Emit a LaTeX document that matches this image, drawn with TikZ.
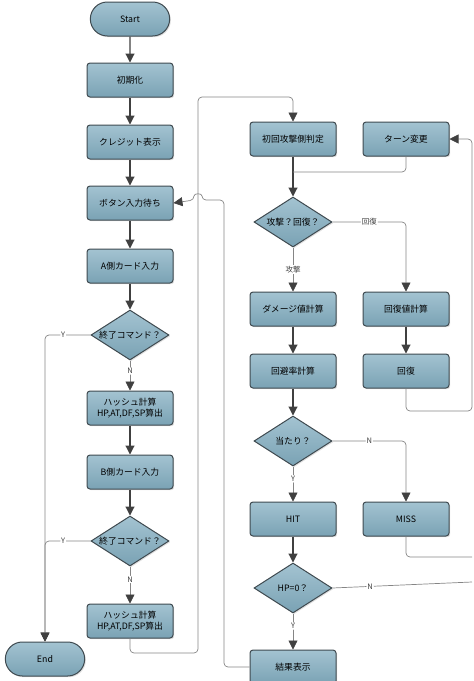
\documentclass[tikz,border=0pt]{standalone}
\usepackage{fontspec}
\newfontfamily\jpfont{Noto Sans CJK JP}
\usepackage{tikz}
\usetikzlibrary{arrows.meta,positioning,shapes.geometric,shapes.misc,shadows}
\usepackage{xcolor}

\definecolor{boxtop}{HTML}{A3C3D1}
\definecolor{boxbot}{HTML}{7AA2B4}
\definecolor{boxline}{HTML}{3F4A50}
\definecolor{wirec}{HTML}{858585}
\definecolor{headc}{HTML}{404040}

\begin{document}
\begin{tikzpicture}[
  x=1pt,y=-1pt,
  node distance=27pt,
  base/.style={draw=boxline,line width=1pt,top color=boxtop,bottom color=boxbot,
    font=\jpfont\fontsize{8.8}{10.5}\selectfont,align=center,
    drop shadow={opacity=0.25,shadow xshift=1.2pt,shadow yshift=-1.2pt}},
  box/.style={base,rounded corners=3pt,minimum width=86pt,minimum height=34pt,inner sep=1pt},
  term/.style={base,rounded rectangle,minimum width=86pt,minimum height=34pt},
  ask/.style={base,diamond,aspect=1.6,minimum width=78pt,minimum height=50pt,inner sep=0pt},
  arr/.style={-{Triangle[width=9pt,length=9pt]},draw=headc,line width=1.1pt},
  link/.style={-{Triangle[width=9pt,length=9pt,color=headc]},draw=wirec,line width=0.7pt,rounded corners=4pt},
  wire/.style={draw=wirec,line width=0.7pt,rounded corners=4pt},
  lbl/.style={fill=white,inner sep=1pt,font=\jpfont\fontsize{7.5}{9}\selectfont,text=black!75}
]
\useasboundingbox (0,0) rectangle (474,681);

% left column
\node[term] (start) at (130,19) {Start};
\node[box,below=26pt of start] (init) {初期化};
\node[box,below=of init] (credit) {クレジット表示};
\node[box,below=26pt of credit] (wait) {ボタン入力待ち};
\node[box,below=28pt of wait] (cardA) {A側カード入力};
\node[ask,below=26pt of cardA] (quitA) {終了コマンド？};
\node[box,below=30pt of quitA] (hashA) {ハッシュ計算\\HP,AT,DF,SP算出};
\node[box,below=29pt of hashA] (cardB) {B側カード入力};
\node[ask,below=26pt of cardB] (quitB) {終了コマンド？};
\node[box,below=37pt of quitB] (hashB) {ハッシュ計算\\HP,AT,DF,SP算出};
\node[term] (stop) at (45,659) {End};

% battle columns
\node[box] (first) at (293,139) {初回攻撃側判定};
\node[box,right=26pt of first] (turn) {ターン変更};
\node[ask,below=40pt of first] (act) {攻撃？回復？};
\node[box,below=44pt of act] (dmg) {ダメージ値計算};
\node[box,right=26pt of dmg] (calc) {回復値計算};
\node[box,below=of dmg] (evade) {回避率計算};
\node[box,right=26pt of evade] (heal) {回復};
\node[ask,below=of evade] (hitq) {当たり？};
\node[box,below=35pt of hitq] (hit) {HIT};
\node[box,right=26pt of hit] (miss) {MISS};
\node[ask,below=26pt of hit] (hpq) {HP=0？};
\node[box,below=36pt of hpq] (result) {結果表示};

\draw[arr] (start) -- (init);
\draw[arr] (init) -- (credit);
\draw[arr] (credit) -- (wait);
\draw[arr] (wait) -- (cardA);
\draw[arr] (cardA) -- (quitA);
\draw[link] (quitA) -- node[lbl,pos=0.35]{N} (hashA);
\draw[arr] (hashA) -- (cardB);
\draw[arr] (cardB) -- (quitB);
\draw[link] (quitB) -- node[lbl,pos=0.35]{N} (hashB);
\draw[link] (quitA.west) -| node[lbl,pos=0.3]{Y} (stop.north);
\draw[link] (quitB.west) -| node[lbl,pos=0.3]{Y} (stop.north);
\draw[link] (hashB.south) |- (198,653) -- (198,97) -| (first.north);
\draw[link] (result.west) -| (224,200) -- (202,200) .. controls (202,193) and (194,193) .. (194,200) -- (wait.east);

\draw[arr] (first) -- (act);
\draw[wire] (turn.south) |- (first.south |- 0,172);
\draw[link] (act.east) -| node[lbl,pos=0.25]{回復} (calc.north);
\draw[link] (act) -- node[lbl]{攻撃} (dmg);
\draw[arr] (dmg) -- (evade);
\draw[arr] (calc) -- (heal);
\draw[arr] (evade) -- (hitq);
\draw[link] (hitq.east) -| node[lbl,pos=0.25]{N} (miss.north);
\draw[link] (hitq) -- node[lbl,pos=0.35]{Y} (hit);
\draw[arr] (hit) -- (hpq);
\draw[link] (hpq) -- node[lbl,pos=0.35]{Y} (result);
\draw[link] (heal.south) |- (472,411) |- (turn.east);
\draw[wire] (miss.south) |- (472,557);
\draw[wire] (hpq.east) -- node[lbl,pos=0.27]{N} (472,582);
\end{tikzpicture}
\end{document}
